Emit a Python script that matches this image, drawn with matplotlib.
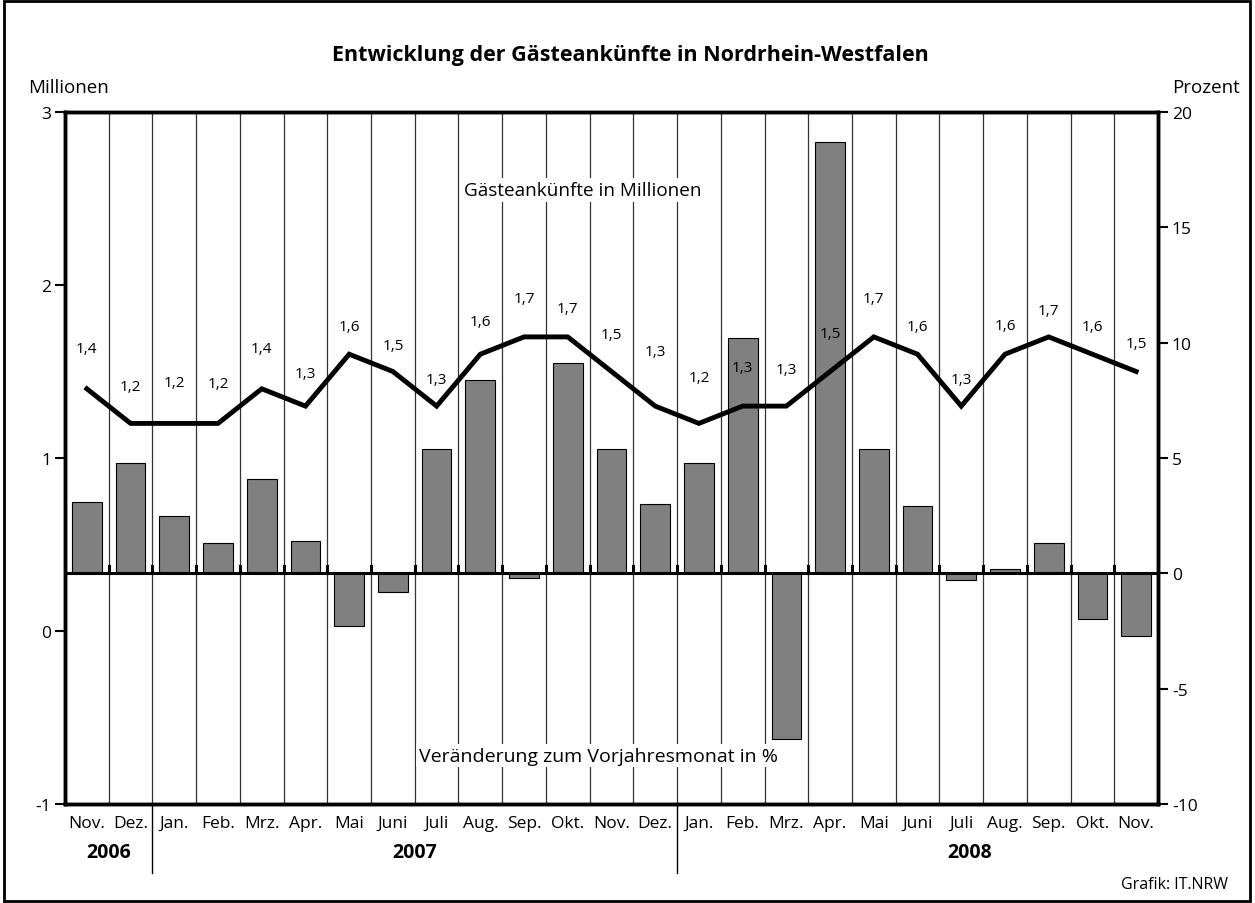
import matplotlib.pyplot as plt
from matplotlib.patches import Rectangle

plt.rcParams['font.family'] = ['Open Sans', 'DejaVu Sans']
plt.rcParams['axes.unicode_minus'] = False

# Monate Nov. 2006 bis Nov. 2008
months = ['Nov.', 'Dez.', 'Jan.', 'Feb.', 'Mrz.', 'Apr.', 'Mai', 'Juni', 'Juli', 'Aug.',
          'Sep.', 'Okt.', 'Nov.', 'Dez.', 'Jan.', 'Feb.', 'Mrz.', 'Apr.', 'Mai', 'Juni',
          'Juli', 'Aug.', 'Sep.', 'Okt.', 'Nov.']
years = ['2006', '2007', '2008']

# Gästeankünfte in Millionen
arrivals = [1.4, 1.2, 1.2, 1.2, 1.4, 1.3, 1.6, 1.5, 1.3, 1.6, 1.7, 1.7, 1.5, 1.3,
            1.2, 1.3, 1.3, 1.5, 1.7, 1.6, 1.3, 1.6, 1.7, 1.6, 1.5]

# Veränderung zum Vorjahresmonat in %
change = [3.1, 4.8, 2.5, 1.3, 4.1, 1.4, -2.3, -0.8, 5.4, 8.4, -0.2, 9.1, 5.4, 3.0,
          4.8, 10.2, -7.2, 18.7, 5.4, 2.9, -0.3, 0.2, 1.3, -2.0, -2.7]

# vertical offset of the value labels above the line (pixels)
label_dy = [40, 37, 41, 40, 40, 33, 28, 26, 27, 33, 38, 28, 37, 55, 46, 39, 37,
            38, 38, 28, 27, 29, 26, 28, 28]

fig = plt.figure(figsize=(12.55, 9.04), dpi=100)
ax2 = fig.add_axes([65 / 1255, 99 / 904, 1093 / 1255, 692 / 904])
ax = ax2.twinx()
ax.yaxis.tick_left()
ax2.yaxis.tick_right()
ax.set_zorder(ax2.get_zorder() + 1)
ax.patch.set_visible(False)

n = len(months)
x = list(range(n))

# bars (percent, right axis)
ax2.bar(x, change, width=0.68, color='#808080', edgecolor='black', linewidth=0.8, zorder=3)
ax2.set_ylim(-10, 20)
ax2.set_yticks(range(-10, 21, 5))
ax2.set_xlim(-0.5, n - 0.5)
for i in range(n - 1):
    ax2.axvline(i + 0.5, color='#333333', lw=0.9, zorder=1)
    ax2.plot([i + 0.5, i + 0.5], [0, 0.3], color='black', lw=2.2, zorder=4)
ax2.axhline(0, color='black', lw=2.2, zorder=4)

# line (millions, left axis)
ax.plot(x, arrivals, color='black', lw=3.5, solid_joinstyle='miter', zorder=5)
ax.set_ylim(-1, 3)
ax.set_yticks([-1, 0, 1, 2, 3])
ax.set_xlim(-0.5, n - 0.5)
for i, v in enumerate(arrivals):
    ax.annotate(f'{v:.1f}'.replace('.', ','), (i, v), xytext=(0, label_dy[i]),
                textcoords='offset pixels', ha='center', va='center', fontsize=11, zorder=6)

for a in (ax, ax2):
    for s in a.spines.values():
        s.set_linewidth(2.5)
    a.tick_params(axis='y', length=7, width=1.5, labelsize=12.5, pad=3)
    a.tick_params(axis='x', length=0, labelsize=12.5, pad=8)

ax.set_xticks([])
ax2.set_xticks(x)
ax2.set_xticklabels(months)

ax.text(0.474, 0.887, 'Gästeankünfte in Millionen', transform=ax.transAxes,
        ha='center', va='center', fontsize=13.6, zorder=7,
        bbox=dict(facecolor='white', edgecolor='none', pad=2))
ax.text(0.488, 0.07, 'Veränderung zum Vorjahresmonat in %', transform=ax.transAxes,
        ha='center', va='center', fontsize=14, zorder=7,
        bbox=dict(facecolor='white', edgecolor='none', pad=2))

# year separators and labels below the axis
for b in (1.5, 13.5):
    ax2.plot([b, b], [-10, -13], color='black', lw=1, clip_on=False)
ax2.text(0.5, -12.1, years[0], ha='center', va='center', fontsize=14, fontweight='bold')
ax2.text(7.5, -12.1, years[1], ha='center', va='center', fontsize=14, fontweight='bold')
ax2.text(20.2, -12.1, years[2], ha='center', va='center', fontsize=14, fontweight='bold')

fig.text(630 / 1255, 1 - 55 / 904, 'Entwicklung der Gästeankünfte in Nordrhein-Westfalen',
         ha='center', va='center', fontsize=15.5, fontweight='bold')
fig.text(68 / 1255, 1 - 88 / 904, 'Millionen', ha='center', va='center', fontsize=13.5)
fig.text(1240 / 1255, 1 - 88 / 904, 'Prozent', ha='right', va='center', fontsize=13.5)
fig.text(1228 / 1255, 1 - 885 / 904, 'Grafik: IT.NRW', ha='right', va='center', fontsize=11.5)

fig.patches.append(Rectangle((4 / 1255, 2 / 904), 1246 / 1255, 900 / 904, transform=fig.transFigure,
                             fill=False, edgecolor='black', lw=2))

fig.savefig('out.png', dpi=100)
